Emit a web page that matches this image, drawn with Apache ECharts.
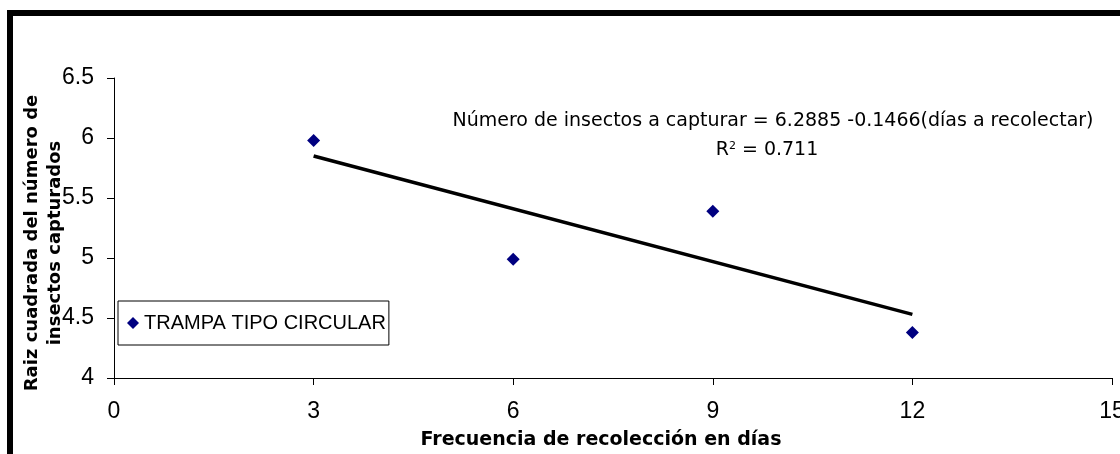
<!DOCTYPE html>
<html>
<head>
<meta charset="utf-8">
<script src="https://cdn.jsdelivr.net/npm/echarts@6/dist/echarts.min.js"></script>
<style>
  html, body { margin: 0; padding: 0; background: #fff; }
  #chart { width: 1120px; height: 454px; }
</style>
</head>
<body>
<div id="chart"></div>
<script>
// Data
const diasRecoleccion = [3, 6, 9, 12];
const raizInsectos = [5.98, 4.99, 5.39, 4.38];
const trendX = [3, 12];
const trendY = [5.85, 4.53];
const seriesName = 'TRAMPA TIPO CIRCULAR';
const xTitle = 'Frecuencia de recolección en días';
const yTitle = 'Raiz cuadrada del número de\ninsectos capturados';
const equationText = 'Número de insectos a capturar = 6.2885 -0.1466(días a recolectar)';
const r2Text = 'R{sup|2} = 0.711';

const FONT = '"Liberation Sans", Arial, sans-serif';
const WIDE = '"DejaVu Sans", "Liberation Sans", sans-serif';

const chart = echarts.init(document.getElementById('chart'), null, { renderer: 'canvas' });

const option = {
  animation: false,
  backgroundColor: '#ffffff',
  grid: { left: 114, right: 8, top: 78, bottom: 76, containLabel: false, outerBoundsMode: 'none' },
  xAxis: {
    type: 'value', min: 0, max: 15, interval: 3,
    name: xTitle, nameLocation: 'middle', nameGap: 53, nameMoveOverlap: false,
    nameTextStyle: { fontFamily: WIDE, fontSize: 19, fontWeight: 'bold', color: '#000', padding: [0, 24, 0, 0] },
    axisLine: { show: true, onZero: false, lineStyle: { color: '#000', width: 1 } },
    axisTick: { show: true, length: 7, lineStyle: { color: '#000' } },
    axisLabel: { fontFamily: FONT, fontSize: 23, color: '#000', margin: 22 },
    splitLine: { show: false }
  },
  yAxis: {
    type: 'value', min: 4, max: 6.5, interval: 0.5,
    name: yTitle, nameLocation: 'middle', nameGap: 47, nameRotate: 90, nameMoveOverlap: false,
    nameTextStyle: { fontFamily: WIDE, fontSize: 18, fontWeight: 'bold', color: '#000', lineHeight: 23, padding: [0, 30, 0, 0] },
    axisLine: { show: true, onZero: false, lineStyle: { color: '#000', width: 1 } },
    axisTick: { show: true, length: 7, lineStyle: { color: '#000' } },
    axisLabel: { fontFamily: FONT, fontSize: 23, color: '#000', margin: 20 },
    splitLine: { show: false }
  },
  legend: {
    left: 118, top: 301,
    orient: 'horizontal',
    data: [{ name: seriesName, icon: 'diamond', itemStyle: { color: '#000080', opacity: 1 } }],
    itemWidth: 12, itemHeight: 12, itemGap: 5,
    padding: [12, 3, 12, 9],
    borderColor: '#000', borderWidth: 1,
    backgroundColor: '#fff',
    textStyle: { fontFamily: FONT, fontSize: 20, color: '#000', lineHeight: 20 }
  },
  series: [
    {
      name: seriesName,
      type: 'scatter',
      symbol: 'diamond',
      symbolSize: 13,
      itemStyle: { color: '#000080', opacity: 1 },
      data: diasRecoleccion.map((d, i) => [d, raizInsectos[i]]),
      z: 3
    },
    {
      name: 'tendencia',
      type: 'line',
      showSymbol: false,
      symbol: 'none',
      lineStyle: { color: '#000', width: 3.5 },
      data: trendX.map((d, i) => [d, trendY[i]]),
      z: 2,
      silent: true
    }
  ],
  graphic: [
    {
      type: 'rect', silent: true, z: 100,
      shape: { x: 10, y: 13, width: 1300, height: 700 },
      style: { fill: null, stroke: '#000', lineWidth: 6 }
    },
    {
      type: 'text', silent: true,
      x: 773, y: 121,
      style: { text: equationText, fontFamily: WIDE, fontSize: 19, fill: '#000', align: 'center', verticalAlign: 'middle' }
    },
    {
      type: 'text', silent: true,
      x: 767, y: 150,
      style: {
        text: r2Text, fontFamily: WIDE, fontSize: 19, fill: '#000', align: 'center', verticalAlign: 'middle',
        rich: { sup: { fontFamily: WIDE, fontSize: 11, verticalAlign: 'top', padding: [0, 0, 8, 0] } }
      }
    }
  ]
};

chart.setOption(option);
</script>
</body>
</html>
